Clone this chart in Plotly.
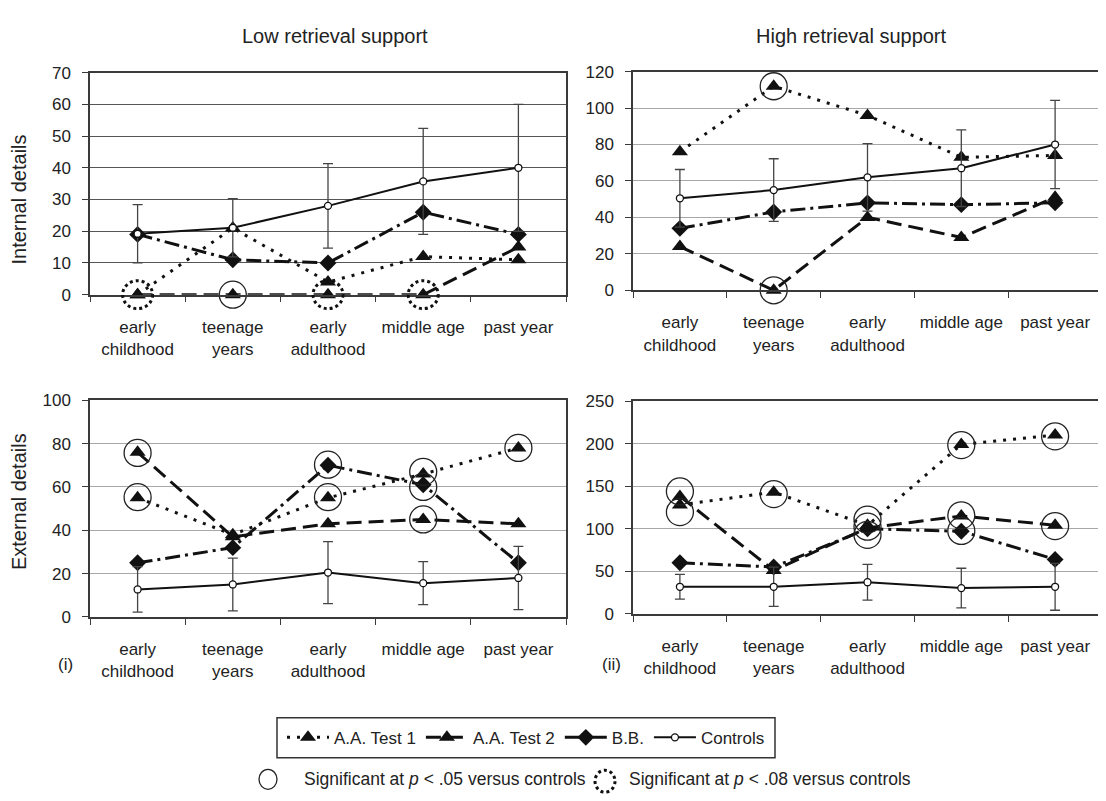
import plotly.graph_objects as go

W, H = 1106, 801          # browser window
OFF = 8                   # default body margin of the page
FW, FH = W - OFF, H - OFF # figure size so the figure ends at the window edge
FONT = "Liberation Sans, Arial, sans-serif"


def fx(px):
    return (px - OFF) / FW


def fy(py):
    return 1 - (py - OFF) / FH


# ---------------- data ----------------
categories = ["early<br>childhood", "teenage<br>years", "early<br>adulthood", "middle age", "past year"]
series_names = ["A.A. Test 1", "A.A. Test 2", "B.B.", "Controls"]

# Internal details, low retrieval support
int_low_aa1 = [0, 21, 4, 12, 11]
int_low_aa2 = [0, 0, 0, 0, 15]
int_low_bb = [19, 11, 10, 26, 19]
int_low_ctrl = [19.2, 21.1, 28.0, 35.7, 40.0]
int_low_ctrl_err = [9.2, 9.2, 13.3, 16.7, 20.0]
int_low_sig05 = [(1, 0)]
int_low_sig08 = [(0, 0), (2, 0), (3, 0)]

# Internal details, high retrieval support
int_high_aa1 = [76, 112, 96, 73, 74]
int_high_aa2 = [24, 0, 40, 29, 51]
int_high_bb = [34, 43, 48, 47, 48]
int_high_ctrl = [50.5, 55, 62, 67, 80]
int_high_ctrl_err = [15.8, 17.2, 18.5, 21, 24.2]
int_high_sig05 = [(1, 112), (1, 0)]
int_high_sig08 = []

# External details, low retrieval support
ext_low_aa1 = [55, 38, 55, 66, 78]
ext_low_aa2 = [76, 37, 43, 45, 43]
ext_low_bb = [25, 32, 70, 61, 25]
ext_low_ctrl = [12.7, 15, 20.5, 15.6, 18]
ext_low_ctrl_err = [10.5, 12.2, 14.3, 9.9, 14.6]
ext_low_sig05 = [(0, 75.7), (0, 55.3), (2, 70.3), (2, 55.3), (3, 67), (3, 60), (3, 45), (4, 78)]
ext_low_sig08 = []

# External details, high retrieval support
ext_high_aa1 = [128, 143, 104, 199, 210]
ext_high_aa2 = [138, 51, 101, 115, 104]
ext_high_bb = [60, 55, 100, 97, 64]
ext_high_ctrl = [31.8, 31.8, 37.2, 30.3, 31.8]
ext_high_ctrl_err = [14.6, 23, 21, 23.3, 27.6]
ext_high_sig05 = [(0, 143.8), (0, 119.6), (1, 140.7), (2, 110.8), (2, 92.8), (2, 102.4),
                  (3, 198.3), (3, 115.8), (3, 97.4), (4, 208.6), (4, 103.1)]
ext_high_sig08 = []

y_ranges = {"TL": [0, 70], "TR": [0, 120], "BL": [0, 100], "BR": [0, 250]}
y_dticks = {"TL": 10, "TR": 20, "BL": 20, "BR": 50}

# ---------------- layout geometry (window pixels) ----------------
panels = [
    ("TL", "", (90, 566), (65, 292.5), "#555555",
     (int_low_aa1, int_low_aa2, int_low_bb, int_low_ctrl, int_low_ctrl_err, int_low_sig05, int_low_sig08)),
    ("TR", "2", (633, 1102), (64, 288), "#a8a8a8",
     (int_high_aa1, int_high_aa2, int_high_bb, int_high_ctrl, int_high_ctrl_err, int_high_sig05, int_high_sig08)),
    ("BL", "3", (90, 566), (400.7, 622.7), "#a8a8a8",
     (ext_low_aa1, ext_low_aa2, ext_low_bb, ext_low_ctrl, ext_low_ctrl_err, ext_low_sig05, ext_low_sig08)),
    ("BR", "4", (633, 1102), (401.5, 619.5), "#a8a8a8",
     (ext_high_aa1, ext_high_aa2, ext_high_bb, ext_high_ctrl, ext_high_ctrl_err, ext_high_sig05, ext_high_sig08)),
]

LINE_C = "#111111"
FRAME_C = "#3a3a3a"
TXT_C = "#222222"

styles = [
    dict(dash="3px,7px", width=3, symbol="triangle-up", size=14),
    dict(dash="15px,7px", width=3, symbol="triangle-up", size=14),
    dict(dash="15px,5px,3px,5px", width=3, symbol="diamond", size=13),
]

fig = go.Figure()
shapes = []
layout = {}

for idx, (key, sfx, xr, yr, gridc, data) in enumerate(panels):
    aa1, aa2, bb, ctrl, err, sig05, sig08 = data
    xa, ya = "x" + sfx, "y" + sfx
    first = idx == 0
    for name, vals, st in zip(series_names[:3], (aa1, aa2, bb), styles):
        fig.add_trace(go.Scatter(
            x=categories, y=vals, name=name, xaxis=xa, yaxis=ya,
            mode="lines+markers", showlegend=first, legendgroup=name,
            line=dict(color=LINE_C, width=st["width"], dash=st["dash"]),
            marker=dict(symbol=st["symbol"], size=st["size"], color=LINE_C),
            cliponaxis=False,
        ))
    fig.add_trace(go.Scatter(
        x=categories, y=ctrl, name=series_names[3], xaxis=xa, yaxis=ya,
        mode="lines+markers", showlegend=first, legendgroup="ctrl",
        line=dict(color=LINE_C, width=2),
        marker=dict(symbol="circle", size=7, color="white", line=dict(color=LINE_C, width=1.3)),
        error_y=dict(type="data", array=err, visible=True, color="#444444", thickness=1.3, width=5),
        cliponaxis=False,
    ))
    if sig05:
        fig.add_trace(go.Scatter(
            x=[categories[i] for i, _ in sig05], y=[v for _, v in sig05],
            xaxis=xa, yaxis=ya, mode="markers", showlegend=False, hoverinfo="skip",
            marker=dict(symbol="circle-open", size=27, color="#222222", line=dict(width=1.3)),
            cliponaxis=False,
        ))
    lo, hi = y_ranges[key]
    for i, v in sig08:
        # dotted circles: x on the category axis, y on the axis domain (so they are not clipped)
        shapes.append(dict(
            type="circle", xref=xa, yref=ya + " domain", xsizemode="pixel", ysizemode="pixel",
            xanchor=i, yanchor=(v - lo) / (hi - lo), x0=-15, x1=15, y0=-14, y1=14,
            line=dict(color="#111111", width=3, dash="dot"), layer="above",
        ))

    axis_common = dict(showline=True, mirror=True, linecolor=FRAME_C, linewidth=1.5,
                       ticks="outside", ticklen=6, tickcolor=FRAME_C, tickwidth=1.3)
    layout["xaxis" + sfx] = dict(
        domain=[fx(xr[0]), fx(xr[1])], anchor=ya, type="category",
        tickson="boundaries", range=[-0.5, 4.5], showgrid=False, zeroline=False,
        tickfont=dict(family=FONT, size=17, color=TXT_C), ticklabelstandoff=16,
        **axis_common)
    layout["yaxis" + sfx] = dict(
        domain=[fy(yr[1]), fy(yr[0])], anchor=xa, range=y_ranges[key],
        dtick=y_dticks[key], showgrid=True, gridcolor=gridc, gridwidth=1.2, zeroline=False,
        tickfont=dict(family=FONT, size=17, color=TXT_C), ticklabelstandoff=8,
        **axis_common)


def note(text, x, y, size, angle=0, xanchor="center"):
    return dict(text=text, x=fx(x), y=fy(y), xref="paper", yref="paper", xanchor=xanchor,
                yanchor="middle", textangle=angle, showarrow=False,
                font=dict(family=FONT, size=size, color=TXT_C))


annotations = [
    note("Low retrieval support", 335, 27, 20),
    note("High retrieval support", 851, 27, 20),
    note("Internal details", 19, 195, 20, angle=-90),
    note("External details", 19, 505, 20, angle=-90),
    note("(i)", 65, 671, 17),
    note("(ii)", 611, 671, 17),
    note("Significant at <i>p</i> &lt; .05 versus controls", 302, 789, 17.5, xanchor="left"),
    note("Significant at <i>p</i> &lt; .08 versus controls", 627, 789, 17.5, xanchor="left"),
]

# legend frame
shapes.append(dict(type="rect", xref="paper", yref="paper", x0=fx(277), x1=fx(775),
                   y0=fy(767), y1=fy(726), line=dict(color="#333333", width=1.5)))
# key symbols for the significance row
shapes.append(dict(type="circle", xref="paper", yref="paper", xsizemode="pixel", ysizemode="pixel",
                   xanchor=fx(268), yanchor=fy(789), x0=-9, x1=9, y0=-10, y1=10,
                   line=dict(color="#222", width=1.3)))
shapes.append(dict(type="circle", xref="paper", yref="paper", xsizemode="pixel", ysizemode="pixel",
                   xanchor=fx(605), yanchor=fy(791), x0=-10, x1=10, y0=-11, y1=11,
                   line=dict(color="#111", width=3, dash="dot")))

fig.update_layout(
    width=FW, height=FH, margin=dict(l=0, r=0, t=0, b=0),
    paper_bgcolor="white", plot_bgcolor="white",
    font=dict(family=FONT, color=TXT_C),
    showlegend=True,
    legend=dict(orientation="h", x=fx(526), y=fy(746.5), xanchor="center", yanchor="middle",
                borderwidth=0, bgcolor="rgba(0,0,0,0)", itemwidth=42,
                font=dict(family=FONT, size=17, color=TXT_C), traceorder="normal"),
    shapes=shapes, annotations=annotations,
    **layout,
)

fig.write_html("out.html")
